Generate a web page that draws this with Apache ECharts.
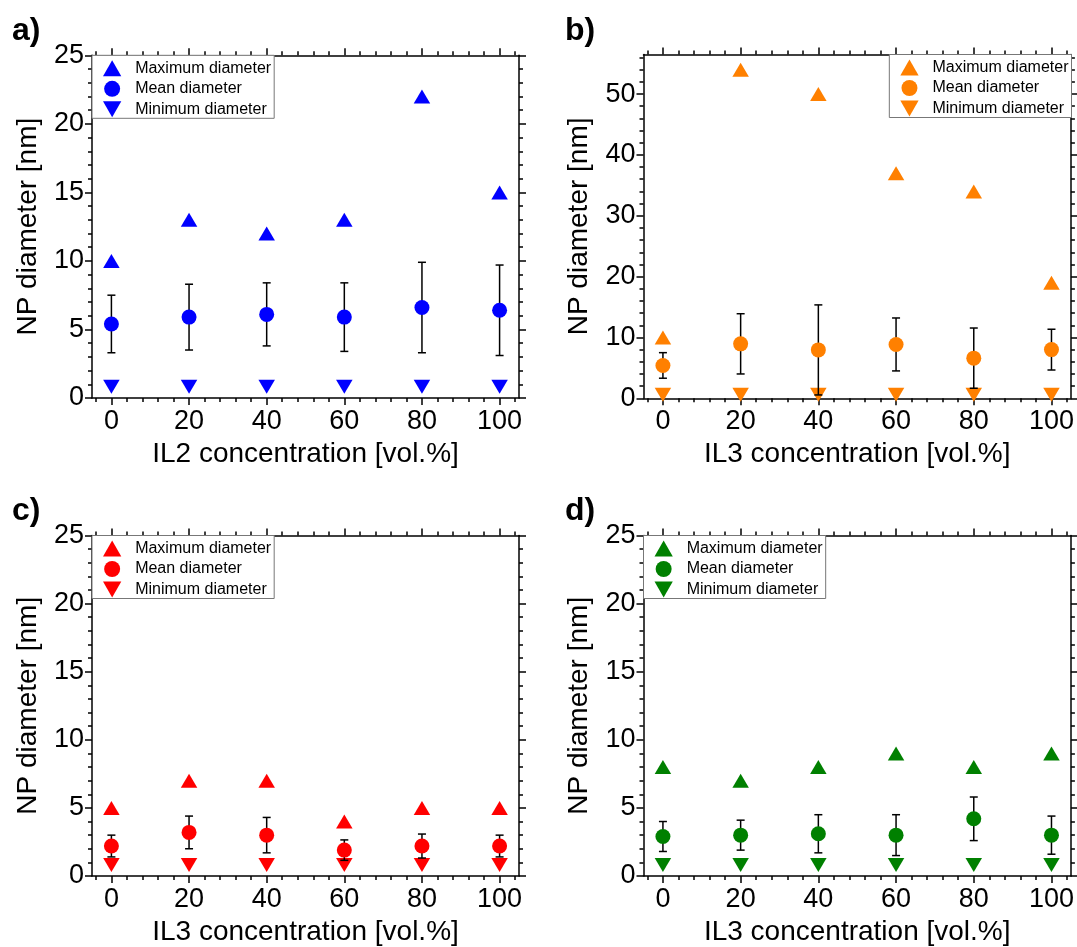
<!DOCTYPE html>
<html><head><meta charset="utf-8">
<script src="https://cdn.jsdelivr.net/npm/echarts@6/dist/echarts.min.js"></script>
<style>html,body{margin:0;padding:0;background:#fff}#c{width:1077px;height:947px}</style>
</head><body><div id="c"></div>
<script>
// ---------- data ----------
const concentrations = [0, 20, 40, 60, 80, 100];

const xMajorTicks = [0, 20, 40, 60, 80, 100];
const xMinorTicks = [-4, 4, 8, 12, 16, 24, 28, 32, 36, 44, 48, 52, 56, 64, 68, 72, 76, 84, 88, 92, 96, 104];
const yMajorTicks25 = [0, 5, 10, 15, 20, 25];
const yMinorTicks25 = [1, 2, 3, 4, 6, 7, 8, 9, 11, 12, 13, 14, 16, 17, 18, 19, 21, 22, 23, 24];
const yMajorTicks56 = [0, 10, 20, 30, 40, 50];
const yMinorTicks56 = [2, 4, 6, 8, 12, 14, 16, 18, 22, 24, 26, 28, 32, 34, 36, 38, 42, 44, 46, 48, 52, 54, 56];

const aMax  = [10, 13, 12, 13, 22, 15];
const aMean = [5.4, 5.9, 6.1, 5.9, 6.6, 6.4];
const aSd   = [2.1, 2.4, 2.3, 2.5, 3.3, 3.3];
const aMin  = [1, 1, 1, 1, 1, 1];

const bMax  = [10, 54, 50, 37, 34, 19];
const bMean = [5.4, 8.95, 7.95, 8.85, 6.6, 8.0];
const bSd   = [2.1, 4.95, 7.4, 4.35, 4.95, 3.35];
const bMin  = [1, 1, 1, 1, 1, 1];

const cMax  = [5, 7, 7, 4, 5, 5];
const cMean = [2.2, 3.2, 3.0, 1.9, 2.2, 2.2];
const cSd   = [0.8, 1.2, 1.3, 0.75, 0.88, 0.8];
const cMin  = [1, 1, 1, 1, 1, 1];

const dMax  = [8, 7, 8, 9, 8, 9];
const dMean = [2.9, 3.0, 3.1, 3.0, 4.2, 3.0];
const dSd   = [1.1, 1.1, 1.4, 1.5, 1.6, 1.4];
const dMin  = [1, 1, 1, 1, 1, 1];

const seriesNames = ['Maximum diameter', 'Mean diameter', 'Minimum diameter'];
const yTitle = 'NP diameter [nm]';

// ---------- layout ----------
const FONT = '"Liberation Sans", Arial, sans-serif';
const panels = [
  {key:'a', label:'a)', xName:'IL2 concentration [vol.%]', color:'#0000FF', max:aMax, mean:aMean, sd:aSd, min:aMin,
   yMax:25, yMaj:yMajorTicks25, yMin:yMinorTicks25,
   grid:{left:92, top:55.3, width:427, height:342.7}, legend:{left:92, top:55.3}, lab:[12, 28]},
  {key:'b', label:'b)', xName:'IL3 concentration [vol.%]', color:'#FF8000', max:bMax, mean:bMean, sd:bSd, min:bMin,
   yMax:56.5, yMaj:yMajorTicks56, yMin:yMinorTicks56,
   grid:{left:643.5, top:54.5, width:428, height:343.8}, legend:{right:5.5, top:54.5}, lab:[565, 28]},
  {key:'c', label:'c)', xName:'IL3 concentration [vol.%]', color:'#FF0000', max:cMax, mean:cMean, sd:cSd, min:cMin,
   yMax:25, yMaj:yMajorTicks25, yMin:yMinorTicks25,
   grid:{left:92, top:535.5, width:427, height:342}, legend:{left:92, top:535.5}, lab:[12, 508]},
  {key:'d', label:'d)', xName:'IL3 concentration [vol.%]', color:'#008000', max:dMax, mean:dMean, sd:dSd, min:dMin,
   yMax:25, yMaj:yMajorTicks25, yMin:yMinorTicks25,
   grid:{left:643.5, top:535.5, width:428.5, height:342}, legend:{left:643.5, top:535.5}, lab:[565, 508]}
];

const UP = 'path://M8,0 L16,14 L0,14 Z';
const DOWN = 'path://M0,0 L16,0 L8,14 Z';
const axisLineStyle = {color:'#000', width:1.5};

const option = {
  animation:false,
  backgroundColor:'#fff',
  grid:[], xAxis:[], yAxis:[], series:[], legend:[], graphic:[]
};

panels.forEach((p, gi) => {
  option.grid.push(Object.assign({containLabel:false}, p.grid));
  const xb = {type:'value', gridIndex:gi, min:-5, max:105, splitLine:{show:false}};
  const yb = {type:'value', gridIndex:gi, min:0, max:p.yMax, splitLine:{show:false}};
  const maj = (vals) => ({show:true, customValues:vals, length:7, inside:false, lineStyle:axisLineStyle});
  const mnr = (vals) => ({show:true, customValues:vals, length:4, inside:false, lineStyle:axisLineStyle});
  // x axes: bottom major (labels + title), bottom minor, top major, top minor
  option.xAxis.push(Object.assign({}, xb, {position:'bottom',
    axisLine:{show:true, onZero:false, lineStyle:axisLineStyle}, axisTick:maj(xMajorTicks),
    axisLabel:{show:true, customValues:xMajorTicks, fontSize:27, color:'#000', fontFamily:FONT, margin:10},
    name:p.xName, nameLocation:'middle', nameGap:42,
    nameTextStyle:{fontSize:28, color:'#000', fontFamily:FONT}}));
  option.xAxis.push(Object.assign({}, xb, {position:'bottom',
    axisLine:{show:false, onZero:false}, axisTick:mnr(xMinorTicks), axisLabel:{show:false}}));
  option.xAxis.push(Object.assign({}, xb, {position:'top',
    axisLine:{show:true, onZero:false, lineStyle:axisLineStyle}, axisTick:maj(xMajorTicks), axisLabel:{show:false}}));
  option.xAxis.push(Object.assign({}, xb, {position:'top',
    axisLine:{show:false, onZero:false}, axisTick:mnr(xMinorTicks), axisLabel:{show:false}}));
  // y axes
  option.yAxis.push(Object.assign({}, yb, {position:'left',
    axisLine:{show:true, onZero:false, lineStyle:axisLineStyle}, axisTick:maj(p.yMaj),
    axisLabel:{show:true, customValues:p.yMaj, fontSize:27, color:'#000', fontFamily:FONT, margin:8},
    name:yTitle, nameLocation:'middle', nameGap:50, nameRotate:90,
    nameTextStyle:{fontSize:28, color:'#000', fontFamily:FONT}}));
  option.yAxis.push(Object.assign({}, yb, {position:'left',
    axisLine:{show:false, onZero:false}, axisTick:mnr(p.yMin), axisLabel:{show:false}}));
  option.yAxis.push(Object.assign({}, yb, {position:'right',
    axisLine:{show:true, onZero:false, lineStyle:axisLineStyle}, axisTick:maj(p.yMaj), axisLabel:{show:false}}));
  option.yAxis.push(Object.assign({}, yb, {position:'right',
    axisLine:{show:false, onZero:false}, axisTick:mnr(p.yMin), axisLabel:{show:false}}));

  const xi = gi * 4, yi = gi * 4;
  const nMax = p.key + '|' + seriesNames[0], nMean = p.key + '|' + seriesNames[1], nMin = p.key + '|' + seriesNames[2];
  const ist = {color:p.color, opacity:1};
  option.series.push({type:'scatter', name:nMax, xAxisIndex:xi, yAxisIndex:yi, clip:false, z:2,
    symbol:UP, symbolSize:[16.5, 14], symbolKeepAspect:false, itemStyle:ist,
    data:concentrations.map((x, j) => [x, p.max[j]])});
  option.series.push({type:'scatter', name:nMin, xAxisIndex:xi, yAxisIndex:yi, clip:false, z:2,
    symbol:DOWN, symbolSize:[16.5, 14], symbolKeepAspect:false, symbolOffset:[0, 2.5], itemStyle:ist,
    data:concentrations.map((x, j) => [x, p.min[j]])});
  option.series.push({type:'custom', xAxisIndex:xi, yAxisIndex:yi, z:3, silent:true, clip:false,
    data:concentrations.map((x, j) => [x, p.mean[j] - p.sd[j], p.mean[j] + p.sd[j]]),
    renderItem:(params, api) => {
      const lo = api.coord([api.value(0), api.value(1)]);
      const hi = api.coord([api.value(0), api.value(2)]);
      const w = 4;
      const st = {stroke:'#000', lineWidth:1.5};
      return {type:'group', children:[
        {type:'line', shape:{x1:lo[0], y1:lo[1], x2:hi[0], y2:hi[1]}, style:st},
        {type:'line', shape:{x1:lo[0]-w, y1:lo[1], x2:lo[0]+w, y2:lo[1]}, style:st},
        {type:'line', shape:{x1:hi[0]-w, y1:hi[1], x2:hi[0]+w, y2:hi[1]}, style:st}
      ]};
    }});
  option.series.push({type:'scatter', name:nMean, xAxisIndex:xi, yAxisIndex:yi, clip:false, z:4,
    symbol:'circle', symbolSize:15, itemStyle:ist,
    data:concentrations.map((x, j) => [x, p.mean[j]])});

  option.legend.push(Object.assign({
    orient:'vertical', selectedMode:false,
    data:[{name:nMax, icon:UP}, {name:nMean, icon:'circle'}, {name:nMin, icon:DOWN}],
    itemWidth:36, itemHeight:16, itemGap:4.5,
    padding:[5, 3, 1, 11],
    borderColor:'#777', borderWidth:1, backgroundColor:'#fff',
    itemStyle:{opacity:1},
    textStyle:{fontSize:16, color:'#000', fontFamily:FONT},
    formatter:(n) => n.split('|')[1]
  }, p.legend));

  option.graphic.push({type:'text', left:p.lab[0], top:p.lab[1] - 13,
    style:{text:p.label, font:'bold 32px ' + FONT, fill:'#000'}});
});

const chart = echarts.init(document.getElementById('c'), null, {renderer:'canvas'});
chart.setOption(option);
</script>
</body></html>
